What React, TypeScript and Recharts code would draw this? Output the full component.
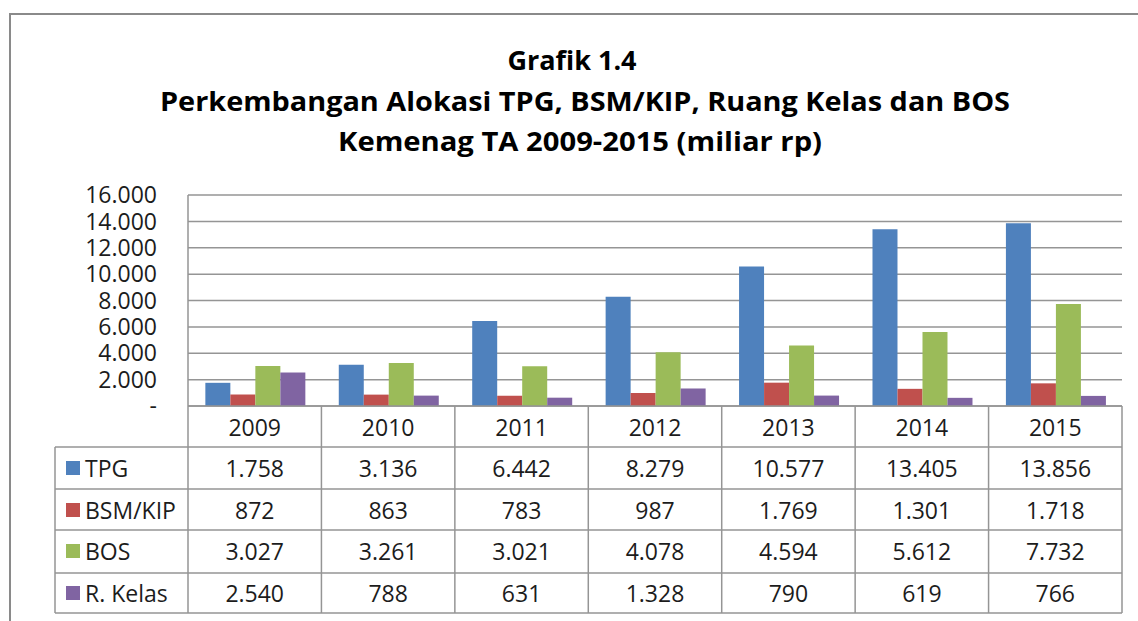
import { BarChart, Bar, XAxis, YAxis, CartesianGrid } from 'recharts';

const years  = ['2009', '2010', '2011', '2012', '2013', '2014', '2015'];
const tpg    = [1758, 3136, 6442, 8279, 10577, 13405, 13856];
const bsmKip = [872, 863, 783, 987, 1769, 1301, 1718];
const bos    = [3027, 3261, 3021, 4078, 4594, 5612, 7732];
const kelas  = [2540, 788, 631, 1328, 790, 619, 766];
const yTicks = [0, 2000, 4000, 6000, 8000, 10000, 12000, 14000, 16000];

const series = [
  { key: 'tpg',   name: 'TPG',      color: '#4F81BD', values: tpg },
  { key: 'bsm',   name: 'BSM/KIP',  color: '#C0504D', values: bsmKip },
  { key: 'bos',   name: 'BOS',      color: '#9BBB59', values: bos },
  { key: 'kelas', name: 'R. Kelas', color: '#8064A2', values: kelas },
];

const data = years.map((year, i) => ({
  year,
  tpg: tpg[i],
  bsm: bsmKip[i],
  bos: bos[i],
  kelas: kelas[i],
}));

const W = 1138;
const H = 621;
const PLOT_LEFT = 188;
const PLOT_RIGHT = 1122;
const PLOT_TOP = 195;
const PLOT_BOTTOM = 406;
const BAND = (PLOT_RIGHT - PLOT_LEFT) / years.length;
const TABLE_LEFT = 55;
const ROW_LINES = [447, 489, 530, 573, 613];
const ROW_MIDS = [427, 468, 510, 551, 593];
const FONT = '"Open Sans", "Noto Sans", sans-serif';
const TEXT = '#1c1c1c';
const LINE = '#959595';

function fmt(v: number): string {
  if (v === 0) return '-';
  return String(v).replace(/\B(?=(\d{3})+(?!\d))/g, '.');
}

// eslint-disable-next-line @typescript-eslint/no-explicit-any
function TableTick({ x, index, payload }: any) {
  const right = x + BAND / 2;
  const left = x - BAND / 2;
  const txt = { fontFamily: FONT, fontSize: 23, fill: TEXT };
  return (
    <g>
      {index === 0 && (
        <g>
          {ROW_LINES.map(y => (
            <line key={y} x1={TABLE_LEFT} y1={y} x2={PLOT_RIGHT} y2={y} stroke={LINE} strokeWidth={1.5} />
          ))}
          <line x1={TABLE_LEFT} y1={ROW_LINES[0]} x2={TABLE_LEFT} y2={ROW_LINES[4]} stroke={LINE} strokeWidth={1.5} />
          <line x1={left} y1={PLOT_BOTTOM} x2={left} y2={ROW_LINES[4]} stroke={LINE} strokeWidth={1.5} />
          {series.map((s, i) => (
            <g key={s.key}>
              <rect x={66} y={ROW_MIDS[i + 1] - 7} width={14} height={14} fill={s.color} />
              <text x={85} y={ROW_MIDS[i + 1]} dominantBaseline="central" {...txt}>{s.name}</text>
            </g>
          ))}
        </g>
      )}
      <line x1={right} y1={PLOT_BOTTOM} x2={right} y2={ROW_LINES[4]} stroke={LINE} strokeWidth={1.5} />
      <text x={x} y={ROW_MIDS[0]} textAnchor="middle" dominantBaseline="central" {...txt}>{payload.value}</text>
      {series.map((s, i) => (
        <text key={s.key} x={x} y={ROW_MIDS[i + 1]} textAnchor="middle" dominantBaseline="central" {...txt}>
          {fmt(s.values[index])}
        </text>
      ))}
    </g>
  );
}

const titleStyle = { fontFamily: FONT, fontWeight: 700, fontSize: 27, fill: '#000' };

export default function App() {
  return (
    <div style={{ position: 'absolute', left: 0, top: 0, width: W, height: H, overflow: 'hidden', background: '#fff' }}>
      <div style={{ position: 'absolute', left: 9, top: 13, width: 1300, height: 800, border: '2px solid #8a8a8a' }} />
      <svg width={W} height={H} style={{ position: 'absolute', left: 0, top: 0 }}>
        <text x={572} y={70} textAnchor="middle" {...titleStyle}>Grafik 1.4</text>
        <text x={585} y={111} textAnchor="middle" textLength={850} lengthAdjust="spacingAndGlyphs" {...titleStyle}>
          Perkembangan Alokasi TPG, BSM/KIP, Ruang Kelas dan BOS
        </text>
        <text x={580} y={151} textAnchor="middle" textLength={484} lengthAdjust="spacingAndGlyphs" {...titleStyle}>
          Kemenag TA 2009-2015 (miliar rp)
        </text>
      </svg>
      <div style={{ position: 'absolute', left: 0, top: 0 }}>
        <BarChart
          width={W}
          height={H}
          data={data}
          margin={{ top: PLOT_TOP, right: W - PLOT_RIGHT, bottom: 0, left: PLOT_LEFT - 100 }}
          barCategoryGap="13%"
          barGap={0}
        >
          <CartesianGrid horizontal vertical={false} stroke={LINE} strokeWidth={1.5} />
          <XAxis
            dataKey="year"
            height={H - PLOT_BOTTOM}
            interval={0}
            tickLine={false}
            axisLine={{ stroke: LINE, strokeWidth: 1.5 }}
            tick={<TableTick />}
          />
          <YAxis
            width={100}
            domain={[0, 16000]}
            ticks={yTicks}
            interval={0}
            tickFormatter={fmt}
            tickLine={false}
            tickMargin={25}
            axisLine={{ stroke: LINE, strokeWidth: 1.5 }}
            tick={{ fontFamily: FONT, fontSize: 23, fill: TEXT }}
          />
          {series.map(s => (
            <Bar key={s.key} dataKey={s.key} name={s.name} fill={s.color} isAnimationActive={false} />
          ))}
        </BarChart>
      </div>
    </div>
  );
}
